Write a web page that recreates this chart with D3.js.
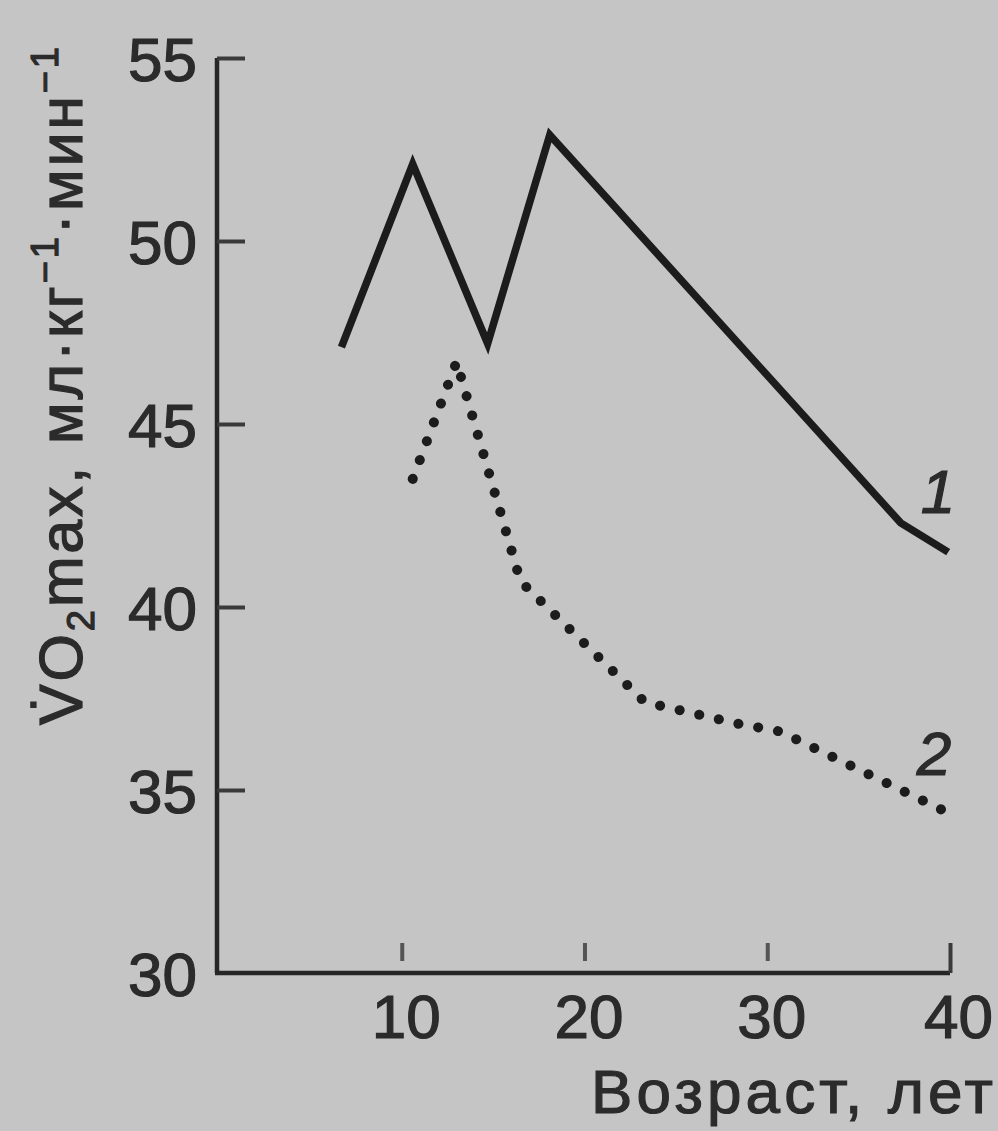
<!DOCTYPE html>
<html>
<head>
<meta charset="utf-8">
<script src="https://cdn.jsdelivr.net/npm/d3@7"></script>
<style>
  html, body { margin: 0; padding: 0; background: #c5c5c5; }
  svg { display: block; }
  text { font-family: "Liberation Sans", Arial, sans-serif; fill: #2b2b2b; stroke: #2b2b2b; stroke-width: 1.2px; }
</style>
</head>
<body>
<svg id="chart" width="998" height="1131"></svg>
<script>
// ---- data ----
const xTicks = [10, 20, 30, 40];
const yTicks = [30, 35, 40, 45, 50, 55];
const xDomain = [0, 40];
const yDomain = [30, 55];

// Curve 1 (solid)
const age1 = [6.7, 10.6, 14.7, 18.1, 37.3, 39.9];
const vo1  = [47.1, 52.1, 47.2, 52.9, 42.3, 41.5];

// Curve 2 (dotted)
const age2 = [10.6, 13.0, 16.5, 23.3, 28.5, 30.7, 39.8];
const vo2  = [43.5, 46.7, 40.7, 37.4, 36.8, 36.6, 34.4];

const seriesLabels = ["1", "2"];
const xTitle = "Возраст, лет";

// ---- layout ----
const svg = d3.select("#chart");
const x = d3.scaleLinear().domain(xDomain).range([219, 950]);
const y = d3.scaleLinear().domain(yDomain).range([973, 58]);
const ink = "#262626";

// axes
const yAxis = d3.axisLeft(y).tickValues(yTicks).tickSize(-28).tickPadding(20).tickFormat(d3.format("d"));
const gy = svg.append("g").attr("transform", `translate(${x(0) - 2},0)`).call(yAxis);
gy.select(".domain").attr("d", `M0,${y(55)}V${y(30)}`).attr("stroke", ink).attr("stroke-width", 4.5);
gy.selectAll(".tick line").attr("stroke", "#3a3a3a").attr("stroke-width", 4);
gy.selectAll(".tick").filter(d => d === 30).select("line").remove();
gy.selectAll(".tick text").attr("font-size", 62).attr("fill", "#2b2b2b")
  .attr("font-family", "'Liberation Sans', Arial, sans-serif").attr("dy", "0.36em");

const xAxis = d3.axisBottom(x).tickValues(xTicks).tickSize(-30).tickPadding(20).tickFormat(d3.format("d"));
const gx = svg.append("g").attr("transform", `translate(0,${y(30)})`).call(xAxis);
gx.select(".domain").attr("d", `M${x(0) - 4},0H${x(40)}`).attr("stroke", ink).attr("stroke-width", 4.5);
gx.selectAll(".tick line").attr("stroke", "#3a3a3a").attr("stroke-width", 4);
gx.selectAll(".tick").filter(d => d !== 40).select("line").attr("y1", -12).attr("stroke", "#555");
gx.selectAll(".tick text").attr("font-size", 62).attr("fill", "#2b2b2b")
  .attr("font-family", "'Liberation Sans', Arial, sans-serif").attr("dy", "0.72em")
  .attr("dx", d => d === 40 ? 8 : 4);

// lines
const line = d3.line().x(d => x(d[0])).y(d => y(d[1]));
const pts1 = age1.map((a, i) => [a, vo1[i]]);
const pts2 = age2.map((a, i) => [a, vo2[i]]);

svg.append("path").datum(pts1).attr("d", line)
  .attr("fill", "none").attr("stroke", "#1c1c1c").attr("stroke-width", 7.5)
  .attr("stroke-linejoin", "miter").attr("stroke-linecap", "butt");

svg.append("path").datum(pts2).attr("d", line)
  .attr("fill", "none").attr("stroke", "#1c1c1c").attr("stroke-width", 10)
  .attr("stroke-linecap", "round").attr("stroke-dasharray", "0.1 20");

// series labels
svg.append("text").attr("x", 938).attr("y", 513).attr("text-anchor", "middle")
  .attr("font-size", 62).attr("font-style", "italic").text(seriesLabels[0]);
svg.append("text").attr("x", 934).attr("y", 775).attr("text-anchor", "middle")
  .attr("font-size", 62).attr("font-style", "italic").text(seriesLabels[1]);

// x title
svg.append("text").attr("x", 993).attr("y", 1113).attr("text-anchor", "end")
  .attr("font-size", 62).attr("textLength", 402).attr("lengthAdjust", "spacing").text(xTitle);

// y title
const yt = svg.append("text")
  .attr("transform", "translate(82,725) rotate(-90)")
  .attr("font-size", 61).attr("textLength", 678).attr("lengthAdjust", "spacing");
yt.append("tspan").text("V\u0307O");
yt.append("tspan").attr("font-size", 38).attr("dy", 12).text("2");
yt.append("tspan").attr("dy", -12).text("max, мл·кг");
yt.append("tspan").attr("font-size", 38).attr("dy", -24).text("−1");
yt.append("tspan").attr("dy", 24).text("·мин");
yt.append("tspan").attr("font-size", 38).attr("dy", -24).text("−1");
</script>
</body>
</html>
